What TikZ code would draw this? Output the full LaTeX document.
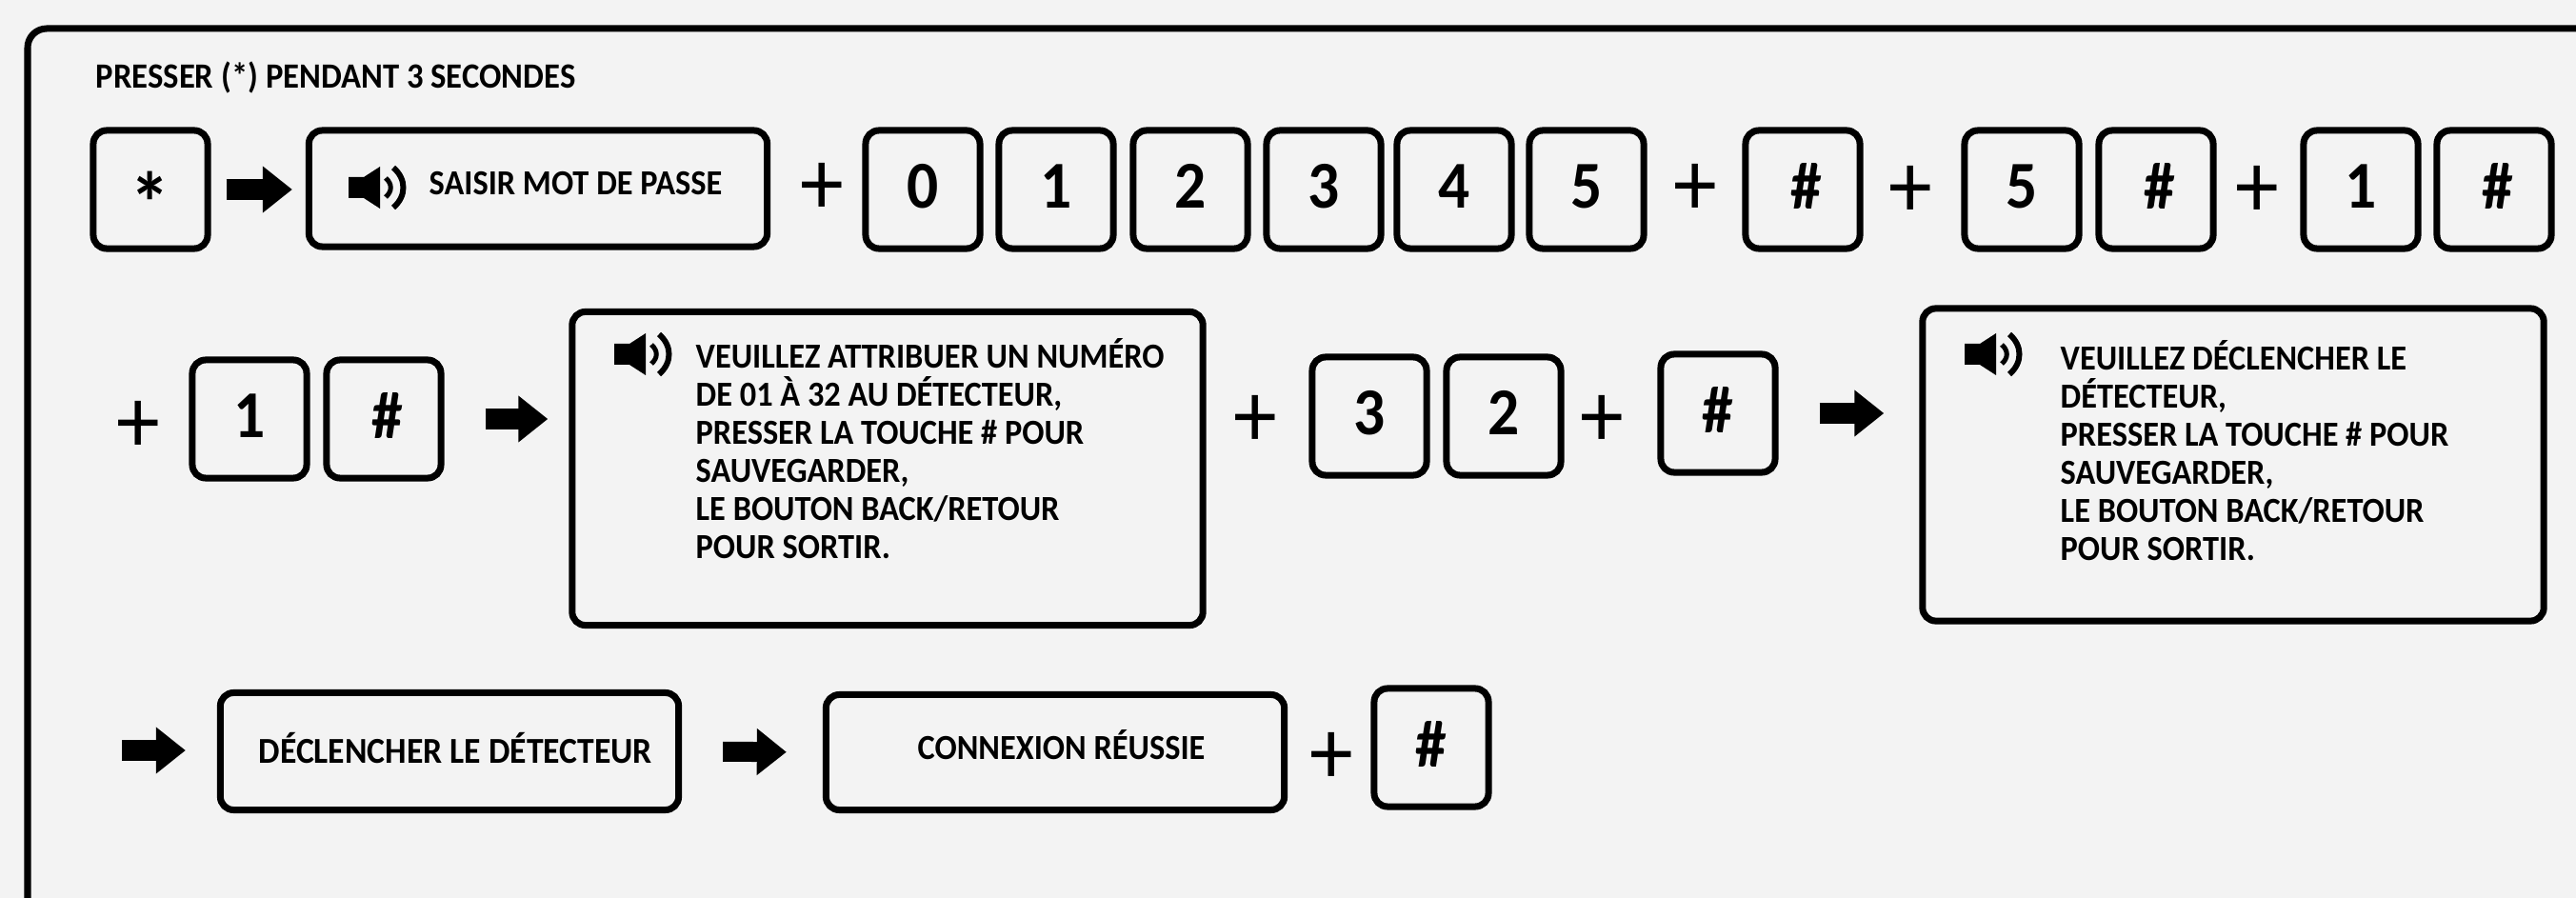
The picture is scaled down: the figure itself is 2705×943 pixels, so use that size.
\documentclass[tikz,border=0pt]{standalone}
\usepackage{fontspec}
\setmainfont{Carlito}[FakeStretch=.93]
\usetikzlibrary{arrows.meta}
\definecolor{pagebg}{HTML}{F3F3F3}
\newcommand\hashkey{\hspace{.08cm}\#}
\tikzset{
    keybox/.style={draw, line width=.07cm, rounded corners=.14cm, minimum width=1.2cm, minimum height=1.24cm, inner sep=0pt, text depth=.07cm, font=\fontsize{20}{22}\selectfont\bfseries},
    msgbox/.style={draw, line width=.07cm, rounded corners=.14cm, inner sep=0pt},
    txt/.style={inner sep=0pt, align=left, font=\fontsize{10.5}{11.34}\selectfont\bfseries},
    plus/.style={inner sep=0pt, yshift=-.06cm, font=\fontsize{28}{30}\selectfont},
    flow/.style={line width=.21cm, -{Triangle[length=.31cm, width=.47cm]}},
    speaker/.pic={
        \fill (0,-11)--(16,-11)--(33,-22)--(33,22)--(16,11)--(0,11)--cycle;
        \draw[line width=.05cm] (39,-10) .. controls (46,-4) and (46,4) .. (39,10);
        \draw[line width=.06cm] (47,-21) .. controls (61,-9) and (61,9) .. (47,21);
    }
}
\begin{document}
\begin{tikzpicture}[x=.01cm, y=-.01cm]
\useasboundingbox (0,0) rectangle (2705,943);
\fill[pagebg] (0,0) rectangle (2705,943);
\draw[line width=.07cm, rounded corners=.2cm] (29,943)--(29,30)--(2705,30);
\node[txt, font=\fontsize{10.6}{11.34}\selectfont\bfseries] (title) at (100,81)[anchor=west]{PRESSER (*) PENDANT 3 SECONDES};
% first row
\node[keybox] (star) at (158,199){\raisebox{-.5cm}[0pt][0pt]{\fontsize{26}{26}\selectfont *}};
\node[msgbox, minimum width=4.81cm, minimum height=1.22cm] (pass) at (565,198){};
\pic at (366,197){speaker};
\node[txt] (passtxt) at (450,193)[anchor=west]{SAISIR MOT DE PASSE};
\node[plus] (p1) at (863,192){+};
\foreach \n/\x/\k in {k0/969/0, k1/1109/1, k2/1250/2, k3/1390/3, k4/1527/4, k5/1666/5, h1/1893/\hashkey, k6/2123/5, h2/2264/\hashkey, k7/2479/1, h3/2619/\hashkey}
{
    \node[keybox] (\n) at (\x,199){\k};
}
\node[plus] (p2) at (1780,193){+};
\node[plus] (p3) at (2006,195){+};
\node[plus] (p4) at (2370,195){+};
% second row
\node[plus] (p5) at (145,442){+};
\node[keybox] (k8) at (262,440){1};
\node[keybox] (h4) at (403,440){\hashkey};
\node[msgbox, minimum width=6.62cm, minimum height=3.29cm] (attr) at (932,492){};
\pic at (645,372){speaker};
\node[txt] (attrtxt) at (730,355)[anchor=north west]{VEUILLEZ ATTRIBUER UN NUMÉRO\\DE 01 À 32 AU DÉTECTEUR,\\PRESSER LA TOUCHE \# POUR\\SAUVEGARDER,\\LE BOUTON BACK/RETOUR\\POUR SORTIR.};
\node[plus] (p6) at (1318,436){+};
\node[keybox] (k9) at (1438,437){3};
\node[keybox] (k10) at (1579,437){2};
\node[plus] (p7) at (1682,436){+};
\node[keybox] (h5) at (1804,434){\#};
\node[msgbox, minimum width=6.52cm, minimum height=3.28cm] (decl) at (2345,488){};
\pic at (2063,372){speaker};
\node[txt] (decltxt) at (2163,357)[anchor=north west]{VEUILLEZ DÉCLENCHER LE\\DÉTECTEUR,\\PRESSER LA TOUCHE \# POUR\\SAUVEGARDER,\\LE BOUTON BACK/RETOUR\\POUR SORTIR.};
% third row
\coordinate (start) at (128,788);
\node[msgbox, minimum width=4.81cm, minimum height=1.23cm] (trig) at (472,789){};
\node[txt, font=\fontsize{10.9}{11.34}\selectfont\bfseries] (trigtxt) at (271,786)[anchor=west]{DÉCLENCHER LE DÉTECTEUR};
\node[msgbox, minimum width=4.81cm, minimum height=1.21cm] (conn) at (1108,790){};
\node[txt] (conntxt) at (963,782)[anchor=west]{CONNEXION RÉUSSIE};
\node[plus] (p8) at (1398,790){+};
\node[keybox] (h6) at (1503,785){\#};
% arrows
\draw[flow, shorten <=.16cm, shorten >=.14cm] (star.east)--(star.east-|pass.west);
\draw[flow, shorten <=.43cm, shorten >=.22cm] (h4.east)--(h4.east-|attr.west);
\draw[flow, shorten <=.43cm, shorten >=.37cm] (h5.east)--(h5.east-|decl.west);
\draw[flow, shorten >=.33cm] (start)--(start-|trig.west);
\draw[flow, shorten <=.43cm, shorten >=.38cm] (trig.east)--(conn.west);
\end{tikzpicture}
\end{document}
